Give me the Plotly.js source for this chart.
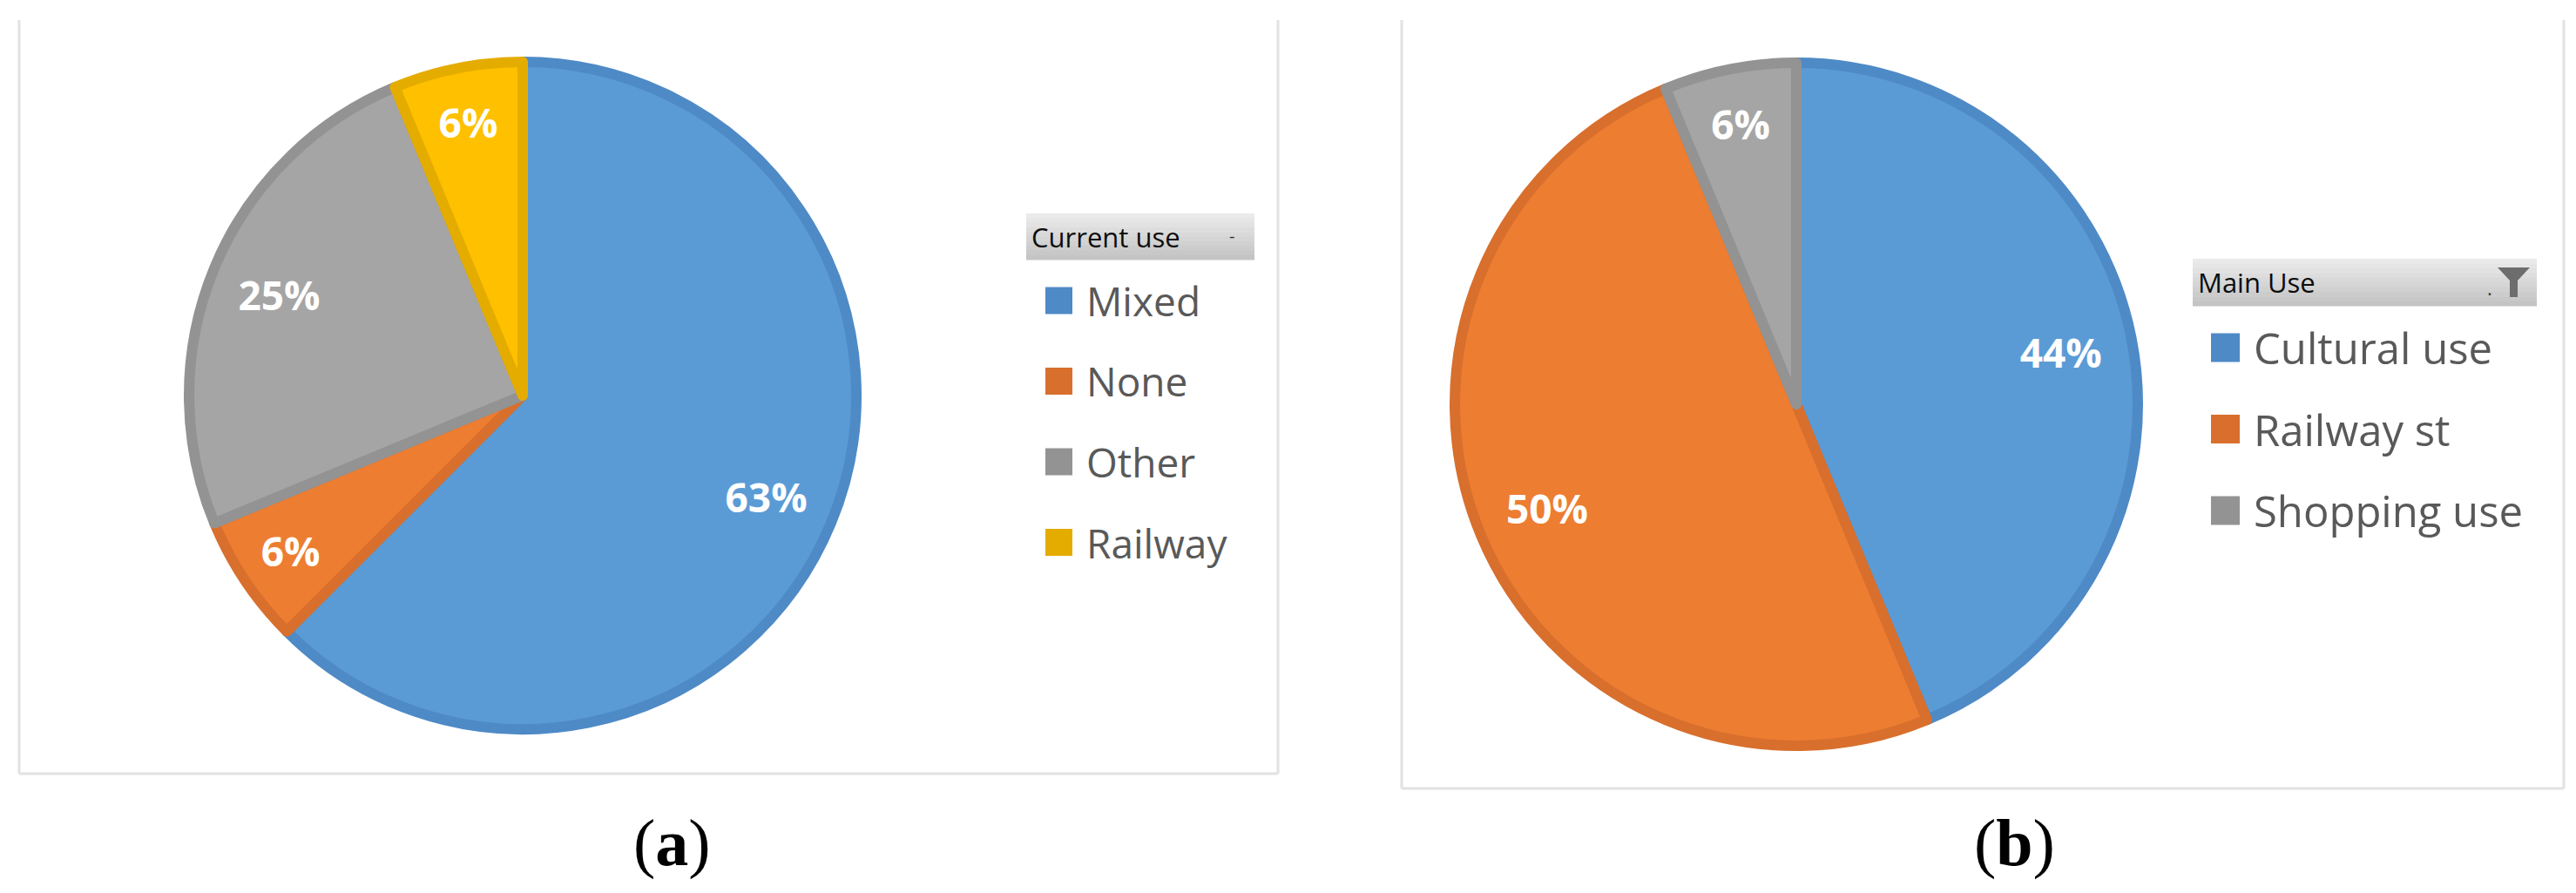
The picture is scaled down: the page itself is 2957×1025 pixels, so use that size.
<!DOCTYPE html>
<html>
<head>
<meta charset="utf-8">
<script src="https://cdn.plot.ly/plotly-3.0.1.min.js"></script>
<style>
    html, body { margin: 0; padding: 0; background: #fff; }
    #chart { width: 2957px; height: 1025px; }
</style>
</head>
<body>
<div id="chart"></div>
<script>
// Panel (a): current use, number of buildings
const currentUseLabels = ['Mixed', 'None', 'Other', 'Railway'];
const currentUseCounts = [10, 1, 4, 1];
const currentUseFills = ['#5b9bd5', '#ed7d31', '#a5a5a5', '#ffc000'];
const currentUseLines = ['#4e8ac6', '#d86f2d', '#939393', '#e5ac00'];

// Panel (b): main use
const mainUseLabels = ['Cultural use', 'Railway st', 'Shopping use'];
const mainUseCounts = [7, 8, 1];
const mainUseFills = ['#5b9bd5', '#ed7d31', '#a5a5a5'];
const mainUseLines = ['#4e8ac6', '#d86f2d', '#939393'];

const W = 2957, H = 1025;
const FONT = '"Open Sans", "Noto Sans", sans-serif';

// pixel -> paper helpers
const px = x => x / W;
const py = y => 1 - y / H;

/**
 * Build the filled pie (no text) inside a square domain given in pixels
 */
function makePie(labels, values, fills, lines, box) {
    return {
        type: 'pie',
        labels: labels,
        values: values,
        sort: false,
        direction: 'clockwise',
        rotation: 0,
        domain: { x: [px(box[0]), px(box[1])], y: [py(box[3]), py(box[2])] },
        marker: { colors: fills, line: { color: lines, width: 12 } },
        textinfo: 'none',
        hoverinfo: 'none',
        showlegend: false
    };
}

/**
 * Transparent ring on top of the pie, so the percentages sit
 * out towards the rim like Excel's "best fit" labels
 */
function makeLabelRing(labels, values, box) {
    return {
        type: 'pie',
        labels: labels,
        values: values,
        sort: false,
        direction: 'clockwise',
        rotation: 0,
        hole: 0.58,
        domain: { x: [px(box[0]), px(box[1])], y: [py(box[3]), py(box[2])] },
        marker: { colors: labels.map(() => 'rgba(0,0,0,0)'), line: { width: 0 } },
        texttemplate: '%{percent:.0%}',
        textposition: 'inside',
        insidetextorientation: 'horizontal',
        textfont: { family: FONT, size: 46, color: '#ffffff', weight: 'bold' },
        hoverinfo: 'none',
        showlegend: false
    };
}

const boxA = [217, 983, 71, 837];
const boxB = [1670, 2454, 72, 856];

const traces = [
    makePie(currentUseLabels, currentUseCounts, currentUseFills, currentUseLines, boxA),
    makeLabelRing(currentUseLabels, currentUseCounts, boxA),
    makePie(mainUseLabels, mainUseCounts, mainUseFills, mainUseLines, boxB),
    makeLabelRing(mainUseLabels, mainUseCounts, boxB)
];

const shapes = [];
const annotations = [];

// Light grey panel frames (no top edge)
function addFrame(left, right, top, bottom) {
    const line = { color: '#e2e2e2', width: 3 };
    shapes.push({ type: 'line', xref: 'paper', yref: 'paper', x0: px(left), x1: px(left), y0: py(top), y1: py(bottom), line });
    shapes.push({ type: 'line', xref: 'paper', yref: 'paper', x0: px(right), x1: px(right), y0: py(top), y1: py(bottom), line });
    shapes.push({ type: 'line', xref: 'paper', yref: 'paper', x0: px(left), x1: px(right), y0: py(bottom), y1: py(bottom), line });
}
addFrame(22, 1467, 23, 888);
addFrame(1609, 2943, 23, 905);

// Legend header bar with a soft vertical gradient
function addHeader(left, right, top, bottom, title) {
    const bands = 10;
    const h = (bottom - top) / bands;
    for (let i = 0; i < bands; i++) {
        const g = Math.round(234 - (234 - 196) * i / (bands - 1));
        shapes.push({
            type: 'rect', xref: 'paper', yref: 'paper', layer: 'below',
            x0: px(left), x1: px(right), y0: py(top + (i + 1) * h + 0.5), y1: py(top + i * h),
            fillcolor: `rgb(${g},${g},${g})`, line: { width: 0 }
        });
    }
    annotations.push({
        xref: 'paper', yref: 'paper', x: px(left + 4), y: py((top + bottom) / 2),
        xanchor: 'left', yanchor: 'middle', showarrow: false,
        text: title, font: { family: FONT, size: 31, color: '#0d0d0d' }
    });
}

// Legend entries built from the data arrays
function addLegend(labels, colors, sqLeft, firstY, step, size, fontSize) {
    labels.forEach((lab, i) => {
        const cy = firstY + i * step;
        shapes.push({
            type: 'rect', xref: 'paper', yref: 'paper',
            x0: px(sqLeft), x1: px(sqLeft + size), y0: py(cy + size / 2), y1: py(cy - size / 2),
            fillcolor: colors[i], line: { width: 0 }
        });
        annotations.push({
            xref: 'paper', yref: 'paper', x: px(sqLeft + size + 14), y: py(cy),
            xanchor: 'left', yanchor: 'middle', showarrow: false,
            text: lab, font: { family: FONT, size: fontSize, color: '#595959' }
        });
    });
}

addHeader(1178, 1440, 245, 298, 'Current use');
annotations.push({
    xref: 'paper', yref: 'paper', x: px(1414), y: py(270), xanchor: 'center', yanchor: 'middle',
    showarrow: false, text: '-', font: { family: FONT, size: 20, color: '#333333' }
});
addLegend(currentUseLabels, currentUseLines, 1200, 345, 92.5, 31, 46);

addHeader(2517, 2912, 297, 351, 'Main Use');
annotations.push({
    xref: 'paper', yref: 'paper', x: px(2858), y: py(330), xanchor: 'center', yanchor: 'middle',
    showarrow: false, text: '.', font: { family: FONT, size: 22, color: '#333333' }
});
// funnel filter icon
shapes.push({
    type: 'path', xref: 'paper', yref: 'paper',
    path: `M ${px(2867)} ${py(307)} L ${px(2904)} ${py(307)} L ${px(2890)} ${py(322)} L ${px(2890)} ${py(341)} L ${px(2881)} ${py(341)} L ${px(2881)} ${py(322)} Z`,
    fillcolor: '#6d6d6d', line: { width: 0 }
});
addLegend(mainUseLabels, mainUseLines, 2538, 399, 93.5, 33, 49);

// Panel captions
annotations.push({
    xref: 'paper', yref: 'paper', x: px(771), y: py(967), xanchor: 'center', yanchor: 'middle',
    showarrow: false, text: '(<b>a</b>)', font: { family: '"Liberation Serif", "DejaVu Serif", serif', size: 76, color: '#000000' }
});
annotations.push({
    xref: 'paper', yref: 'paper', x: px(2312), y: py(967), xanchor: 'center', yanchor: 'middle',
    showarrow: false, text: '(<b>b</b>)', font: { family: '"Liberation Serif", "DejaVu Serif", serif', size: 76, color: '#000000' }
});

const layout = {
    width: W,
    height: H,
    margin: { t: 0, b: 0, l: 0, r: 0 },
    paper_bgcolor: '#ffffff',
    plot_bgcolor: '#ffffff',
    showlegend: false,
    shapes: shapes,
    annotations: annotations
};

Plotly.newPlot('chart', traces, layout, { staticPlot: true });
</script>
</body>
</html>
